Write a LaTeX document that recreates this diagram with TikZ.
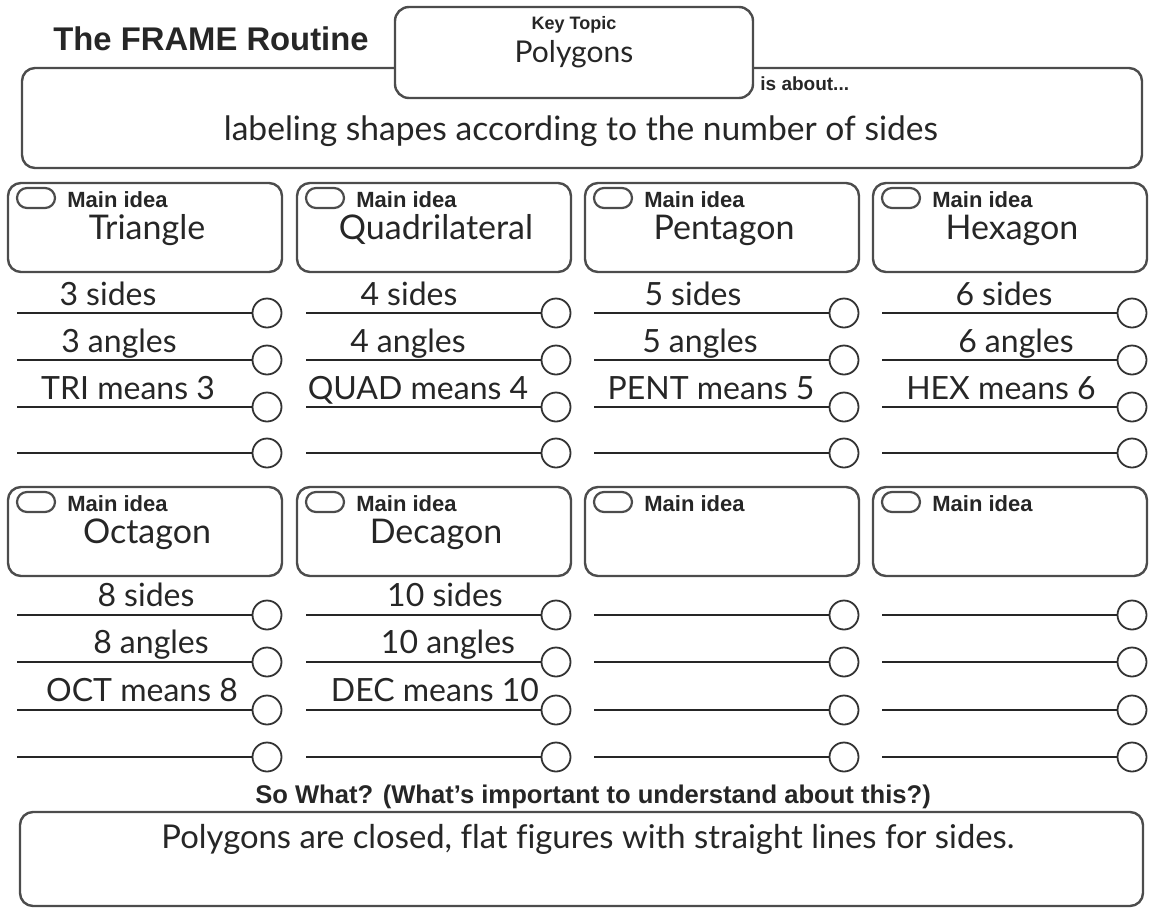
\documentclass[tikz,border=0pt]{standalone}
\usepackage{fontspec}
\newfontfamily\handfont[Ligatures=NoCommon]{Lato}
\newfontfamily\headfont{Liberation Sans}
\tikzset{
  hand/.style={font=\handfont\fontsize{16}{19}\selectfont, text=black!85, inner sep=0pt},
  bighand/.style={hand, font=\handfont\fontsize{17}{20}\selectfont},
  head/.style={font=\headfont\bfseries\fontsize{11}{13}\selectfont, text=black!85, inner sep=0pt},
  roundbox/.style={draw=black!70, line width=1.2pt, rounded corners=6.5pt},
  pill/.style={draw=black!70, line width=1.1pt, rounded corners=5pt},
  dot/.style={circle, draw=black!80, line width=0.9pt, fill=white, minimum size=14.5pt, inner sep=0pt},
  rule/.style={draw=black!85, line width=1pt}
}
\begin{document}
\begin{tikzpicture}[x=0.5pt,y=-0.5pt]
%\draw[help lines,step=50] (0,0) grid (1153,911);
\useasboundingbox (0,0) rectangle (1153,911);
\node [head, font=\headfont\bfseries\fontsize{16.4}{19}\selectfont, anchor=base west] (title) at (53,50) {The FRAME Routine};
\draw [roundbox] (22,68) rectangle (1142,168);
\fill [white, draw=black!70, line width=1.2pt, rounded corners=7pt] (395,7) rectangle (753,98);
\node [head, font=\headfont\bfseries\fontsize{9}{11}\selectfont, anchor=base] (keytopic) at (574,29) {Key Topic};
\node [hand, font=\handfont\fontsize{15}{18}\selectfont, anchor=base] (topic) at (574,62) {Polygons};
\node [head, font=\headfont\bfseries\fontsize{9.5}{11}\selectfont, anchor=base west] (isabout) at (760,90) {is about...};
\node [hand, font=\handfont\fontsize{16.8}{20}\selectfont, anchor=base] (about) at (581,140) {labeling shapes according to the number of sides};

\begin{scope}[shift={(8,183)}]
\draw [roundbox] (0,0) rectangle (274,89);
\draw [pill] (9,5) rectangle (47,25);
\node [head, anchor=west] (idea1) at (59,17) {Main idea};
\node [bighand, anchor=base] (main1) at (139,56) {Triangle};
\coordinate (s1a) at (9,130);
\coordinate (s1b) at (9,177);
\coordinate (s1c) at (9,224);
\coordinate (s1d) at (9,270);
\node [dot] (c1a) at (259,130) {};
\node [dot] (c1b) at (259,177) {};
\node [dot] (c1c) at (259,224) {};
\node [dot] (c1d) at (259,270) {};
\draw [rule] (s1a) -- (c1a);
\draw [rule] (s1b) -- (c1b);
\draw [rule] (s1c) -- (c1c);
\draw [rule] (s1d) -- (c1d);
\node [hand, anchor=base] (w1a) at (100,122) {3 sides};
\node [hand, anchor=base] (w1b) at (111,169) {3 angles};
\node [hand, anchor=base] (w1c) at (120,216) {TRI means 3};
\end{scope}

\begin{scope}[shift={(297,183)}]
\draw [roundbox] (0,0) rectangle (274,89);
\draw [pill] (9,5) rectangle (47,25);
\node [head, anchor=west] (idea2) at (59,17) {Main idea};
\node [bighand, anchor=base] (main2) at (139,56) {Quadrilateral};
\coordinate (s2a) at (9,130);
\coordinate (s2b) at (9,177);
\coordinate (s2c) at (9,224);
\coordinate (s2d) at (9,270);
\node [dot] (c2a) at (259,130) {};
\node [dot] (c2b) at (259,177) {};
\node [dot] (c2c) at (259,224) {};
\node [dot] (c2d) at (259,270) {};
\draw [rule] (s2a) -- (c2a);
\draw [rule] (s2b) -- (c2b);
\draw [rule] (s2c) -- (c2c);
\draw [rule] (s2d) -- (c2d);
\node [hand, anchor=base] (w2a) at (112,122) {4 sides};
\node [hand, anchor=base] (w2b) at (111,169) {4 angles};
\node [hand, anchor=base] (w2c) at (121,216) {QUAD means 4};
\end{scope}

\begin{scope}[shift={(585,183)}]
\draw [roundbox] (0,0) rectangle (274,89);
\draw [pill] (9,5) rectangle (47,25);
\node [head, anchor=west] (idea3) at (59,17) {Main idea};
\node [bighand, anchor=base] (main3) at (139,56) {Pentagon};
\coordinate (s3a) at (9,130);
\coordinate (s3b) at (9,177);
\coordinate (s3c) at (9,224);
\coordinate (s3d) at (9,270);
\node [dot] (c3a) at (259,130) {};
\node [dot] (c3b) at (259,177) {};
\node [dot] (c3c) at (259,224) {};
\node [dot] (c3d) at (259,270) {};
\draw [rule] (s3a) -- (c3a);
\draw [rule] (s3b) -- (c3b);
\draw [rule] (s3c) -- (c3c);
\draw [rule] (s3d) -- (c3d);
\node [hand, anchor=base] (w3a) at (108,122) {5 sides};
\node [hand, anchor=base] (w3b) at (115,169) {5 angles};
\node [hand, anchor=base] (w3c) at (126,216) {PENT means 5};
\end{scope}

\begin{scope}[shift={(873,183)}]
\draw [roundbox] (0,0) rectangle (274,89);
\draw [pill] (9,5) rectangle (47,25);
\node [head, anchor=west] (idea4) at (59,17) {Main idea};
\node [bighand, anchor=base] (main4) at (139,56) {Hexagon};
\coordinate (s4a) at (9,130);
\coordinate (s4b) at (9,177);
\coordinate (s4c) at (9,224);
\coordinate (s4d) at (9,270);
\node [dot] (c4a) at (259,130) {};
\node [dot] (c4b) at (259,177) {};
\node [dot] (c4c) at (259,224) {};
\node [dot] (c4d) at (259,270) {};
\draw [rule] (s4a) -- (c4a);
\draw [rule] (s4b) -- (c4b);
\draw [rule] (s4c) -- (c4c);
\draw [rule] (s4d) -- (c4d);
\node [hand, anchor=base] (w4a) at (131,122) {6 sides};
\node [hand, anchor=base] (w4b) at (143,169) {6 angles};
\node [hand, anchor=base] (w4c) at (128,216) {HEX means 6};
\end{scope}

\begin{scope}[shift={(8,487)}]
\draw [roundbox] (0,0) rectangle (274,89);
\draw [pill] (9,5) rectangle (47,25);
\node [head, anchor=west] (idea5) at (59,17) {Main idea};
\node [bighand, anchor=base] (main5) at (139,56) {Octagon};
\coordinate (s5a) at (9,128);
\coordinate (s5b) at (9,175);
\coordinate (s5c) at (9,223);
\coordinate (s5d) at (9,270);
\node [dot] (c5a) at (259,128) {};
\node [dot] (c5b) at (259,175) {};
\node [dot] (c5c) at (259,223) {};
\node [dot] (c5d) at (259,270) {};
\draw [rule] (s5a) -- (c5a);
\draw [rule] (s5b) -- (c5b);
\draw [rule] (s5c) -- (c5c);
\draw [rule] (s5d) -- (c5d);
\node [hand, anchor=base] (w5a) at (138,119) {8 sides};
\node [hand, anchor=base] (w5b) at (143,166) {8 angles};
\node [hand, anchor=base] (w5c) at (134,214) {OCT means 8};
\end{scope}

\begin{scope}[shift={(297,487)}]
\draw [roundbox] (0,0) rectangle (274,89);
\draw [pill] (9,5) rectangle (47,25);
\node [head, anchor=west] (idea6) at (59,17) {Main idea};
\node [bighand, anchor=base] (main6) at (139,56) {Decagon};
\coordinate (s6a) at (9,128);
\coordinate (s6b) at (9,175);
\coordinate (s6c) at (9,223);
\coordinate (s6d) at (9,270);
\node [dot] (c6a) at (259,128) {};
\node [dot] (c6b) at (259,175) {};
\node [dot] (c6c) at (259,223) {};
\node [dot] (c6d) at (259,270) {};
\draw [rule] (s6a) -- (c6a);
\draw [rule] (s6b) -- (c6b);
\draw [rule] (s6c) -- (c6c);
\draw [rule] (s6d) -- (c6d);
\node [hand, anchor=base] (w6a) at (148,119) {10 sides};
\node [hand, anchor=base] (w6b) at (151,166) {10 angles};
\node [hand, anchor=base] (w6c) at (138,214) {DEC means 10};
\end{scope}

\begin{scope}[shift={(585,487)}]
\draw [roundbox] (0,0) rectangle (274,89);
\draw [pill] (9,5) rectangle (47,25);
\node [head, anchor=west] (idea7) at (59,17) {Main idea};
\coordinate (s7a) at (9,128);
\coordinate (s7b) at (9,175);
\coordinate (s7c) at (9,223);
\coordinate (s7d) at (9,270);
\node [dot] (c7a) at (259,128) {};
\node [dot] (c7b) at (259,175) {};
\node [dot] (c7c) at (259,223) {};
\node [dot] (c7d) at (259,270) {};
\draw [rule] (s7a) -- (c7a);
\draw [rule] (s7b) -- (c7b);
\draw [rule] (s7c) -- (c7c);
\draw [rule] (s7d) -- (c7d);
\end{scope}

\begin{scope}[shift={(873,487)}]
\draw [roundbox] (0,0) rectangle (274,89);
\draw [pill] (9,5) rectangle (47,25);
\node [head, anchor=west] (idea8) at (59,17) {Main idea};
\coordinate (s8a) at (9,128);
\coordinate (s8b) at (9,175);
\coordinate (s8c) at (9,223);
\coordinate (s8d) at (9,270);
\node [dot] (c8a) at (259,128) {};
\node [dot] (c8b) at (259,175) {};
\node [dot] (c8c) at (259,223) {};
\node [dot] (c8d) at (259,270) {};
\draw [rule] (s8a) -- (c8a);
\draw [rule] (s8b) -- (c8b);
\draw [rule] (s8c) -- (c8c);
\draw [rule] (s8d) -- (c8d);
\end{scope}

\draw [roundbox] (20,812) rectangle (1143,906);
\node [head, font=\headfont\bfseries\fontsize{12.8}{15}\selectfont, anchor=base] (sowhat) at (593,803) {So What? (What’s important to understand about this?)};
\node [hand, font=\handfont\fontsize{16.4}{19}\selectfont, anchor=base] (summary) at (588,848) {Polygons are closed, flat figures with straight lines for sides.};
\end{tikzpicture}
\end{document}
